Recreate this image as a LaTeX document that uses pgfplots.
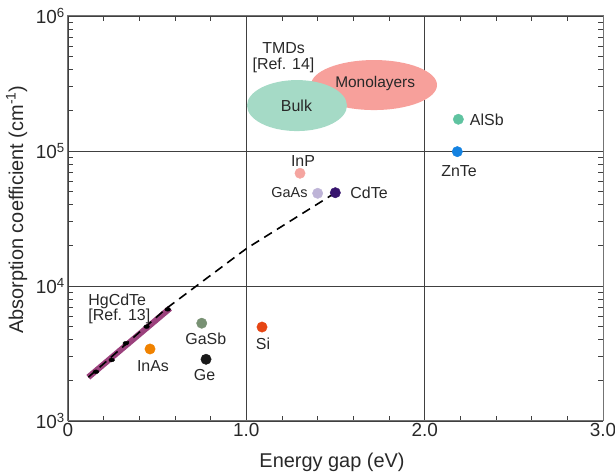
\documentclass[border=0pt]{standalone}
\usepackage{fontspec}
\setmainfont{Liberation Sans}
\usepackage{pgfplots}
\pgfplotsset{compat=1.18}
\usetikzlibrary{calc}
\definecolor{inas}{RGB}{240,130,0}
\definecolor{gasb}{RGB}{120,145,115}
\definecolor{gec}{RGB}{25,25,25}
\definecolor{sic}{RGB}{230,70,20}
\definecolor{inp}{RGB}{245,165,160}
\definecolor{gaas}{RGB}{190,180,215}
\definecolor{cdte}{RGB}{55,20,110}
\definecolor{alsb}{RGB}{95,195,160}
\definecolor{znte}{RGB}{20,130,225}
\definecolor{bulkc}{RGB}{165,218,198}
\definecolor{monoc}{RGB}{247,160,155}
\definecolor{hgcdte}{RGB}{155,65,125}
\definecolor{txt}{RGB}{40,40,40}
\begin{document}
\begin{tikzpicture}
\begin{axis}[name=ax, scale only axis, width=535bp, height=405bp,
  xmin=0, xmax=3, ymode=log, ymin=1e3, ymax=1e6,
  xtick={0,1,2,3}, xticklabels={0,1.0,2.0,3.0}, minor x tick num=4,
  ytick={1e3,1e4,1e5,1e6},
  yticklabels={10\textsuperscript{3},10\textsuperscript{4},10\textsuperscript{5},10\textsuperscript{6}},
  tick align=inside, xtick pos=both, ytick pos=both,
  grid=major, major grid style={black!75, line width=0.8bp},
  axis line style={black!55, line width=1bp},
  tick style={black!75, line width=0.8bp},
  major tick length=6bp, minor tick length=5bp,
  tick label style={font=\fontsize{19}{19}\selectfont, text=txt},
  xticklabel style={inner sep=2bp},
  yticklabel style={inner sep=3bp},
  label style={font=\fontsize{20}{20}\selectfont, text=txt},
  xlabel={Energy gap (eV)},
  ylabel={Absorption coefficient (cm\textsuperscript{-1})},
  xlabel style={at={(axis description cs:0.4935,-0.1136)}, anchor=base},
  ylabel style={at={(axis description cs:-0.0841,0.522)}, anchor=base, rotate=0},
  clip=false,
]
% TMD ellipses
\fill[monoc] (axis cs:1.716,3.08e5) ellipse [x radius=63bp, y radius=25bp];
\fill[bulkc] (axis cs:1.284,2.17e5) ellipse [x radius=50bp, y radius=25.5bp];
% HgCdTe band
\addplot[hgcdte, line width=6bp, no marks] coordinates {(0.114,2110) (0.572,6840)};
% dashed trend
\addplot[black, line width=1.6bp, dash pattern=on 9bp off 6bp, no marks] coordinates {
 (0.114,2110) (0.553,6840) (1.002,19000) (1.451,44700) (1.499,49100)};
% HgCdTe data marks
\addplot[only marks, mark=*, mark size=1.9bp, black, mark options={xscale=1.5, rotate=40}] coordinates {
 (0.157,2317) (0.245,2831) (0.324,3767) (0.441,5000) (0.559,6714)};
% materials
\addplot[only marks, mark=*, mark size=5.2bp, inas, mark options={draw=none}] coordinates {(0.46,3415)};
\addplot[only marks, mark=*, mark size=5.2bp, gasb, mark options={draw=none}] coordinates {(0.75,5300)};
\addplot[only marks, mark=*, mark size=5.2bp, gec, mark options={draw=none}] coordinates {(0.774,2865)};
\addplot[only marks, mark=*, mark size=5.2bp, sic, mark options={draw=none}] coordinates {(1.088,4965)};
\addplot[only marks, mark=*, mark size=5.2bp, inp, mark options={draw=none}] coordinates {(1.301,68400)};
\addplot[only marks, mark=*, mark size=5.2bp, gaas, mark options={draw=none}] coordinates {(1.40,48600)};
\addplot[only marks, mark=*, mark size=5.2bp, cdte, mark options={draw=none}] coordinates {(1.499,49100)};
\addplot[only marks, mark=*, mark size=5.2bp, alsb, mark options={draw=none}] coordinates {(2.189,171800)};
\addplot[only marks, mark=*, mark size=5.2bp, znte, mark options={draw=none}] coordinates {(2.183,98900)};
% labels
\begin{scope}[every node/.style={text=txt, font=\fontsize{16}{16}\selectfont}]
\node[anchor=west, inner sep=0, align=left, font=\fontsize{16}{15}\selectfont] at (axis cs:0.1137,6756) {HgCdTe\\{[}Ref. 13{]}};
\node[anchor=center, inner sep=0, align=center, font=\fontsize{16}{15.3}\selectfont] at (axis cs:1.2085,4.92e5) {TMDs\\{[}Ref. 14{]}};
\node[anchor=base, inner sep=0] at (axis cs:0.4766,2346) {InAs};
\node[anchor=base, inner sep=0] at (axis cs:0.7727,3700) {GaSb};
\node[anchor=base, inner sep=0] at (axis cs:0.7654,1988) {Ge};
\node[anchor=base, inner sep=0] at (axis cs:1.0935,3357) {Si};
\node[anchor=base, inner sep=0] at (axis cs:1.3178,76500) {InP};
\node[anchor=base, inner sep=0, font=\fontsize{14.5}{14.5}\selectfont] at (axis cs:1.2421,45100) {GaAs};
\node[anchor=base, inner sep=0] at (axis cs:1.6879,44640) {CdTe};
\node[anchor=base, inner sep=0] at (axis cs:2.3484,153900) {AlSb};
\node[anchor=base, inner sep=0] at (axis cs:2.1925,64500) {ZnTe};
\node[anchor=base, inner sep=0] at (axis cs:1.2813,197800) {Bulk};
\node[anchor=base, inner sep=0, font=\fontsize{15.5}{15.5}\selectfont] at (axis cs:1.7226,296500) {Monolayers};
\end{scope}
\end{axis}
\pgfresetboundingbox
\path[use as bounding box] ($(ax.south west)+(-68bp,-55bp)$) rectangle ($(ax.north east)+(12bp,16bp)$);
\end{tikzpicture}
\end{document}
